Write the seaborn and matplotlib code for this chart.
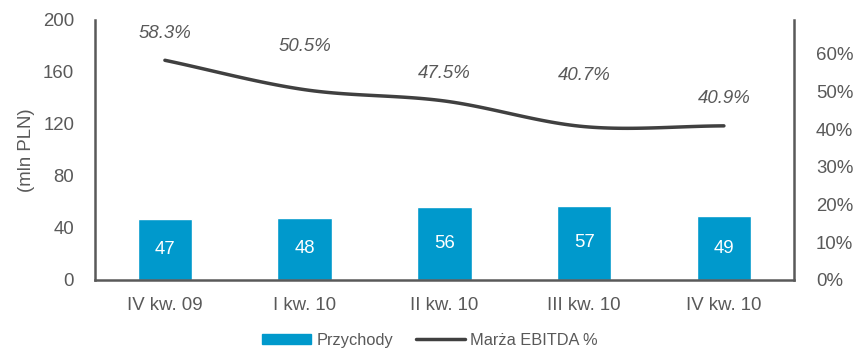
import numpy as np
import pandas as pd
import matplotlib
matplotlib.use("Agg")
import matplotlib.pyplot as plt
import seaborn as sns
from matplotlib.patches import Patch
from matplotlib.lines import Line2D

categories = ["IV kw. 09", "I kw. 10", "II kw. 10", "III kw. 10", "IV kw. 10"]
revenue = [47, 48, 56, 57, 49]
ebitda_margin = [58.3, 50.5, 47.5, 40.7, 40.9]
margin_labels = ["58.3%", "50.5%", "47.5%", "40.7%", "40.9%"]
left_ticks = [0, 40, 80, 120, 160, 200]
right_ticks = [0, 10, 20, 30, 40, 50, 60]

sns.set_theme(style="white")
plt.rcParams['font.family'] = ['Liberation Sans', 'DejaVu Sans']

BAR = "#0099CC"
LINE = "#404040"
TXT = "#595959"
SPINE = "#595959"
FS = 13.4

fig = plt.figure(figsize=(8.6, 3.5), dpi=100)
ax = fig.add_axes([0.1105, 0.2, 0.8125, 0.743])

df = pd.DataFrame({"cat": categories, "rev": revenue})
sns.barplot(data=df, x="cat", y="rev", color=BAR, saturation=1, width=0.39, ax=ax)
ax.set_xlim(-0.5, 4.5)
ax.set_ylim(0, 200)
ax.set_yticks(left_ticks)
ax.set_yticklabels([str(t) for t in left_ticks])
ax.set_xlabel("")
ax.set_ylabel("(mln PLN)", fontsize=FS, color=TXT, labelpad=6)
ax.tick_params(axis="both", colors=TXT, labelsize=FS, length=0)
ax.tick_params(axis="y", pad=15)
ax.tick_params(axis="x", pad=12)
for s in ["top", "right"]:
    ax.spines[s].set_visible(False)
for s in ["left", "bottom"]:
    ax.spines[s].set_color(SPINE)
    ax.spines[s].set_linewidth(1.8)

for p, v in zip(ax.patches, revenue):
    ax.text(p.get_x() + p.get_width() / 2, v / 2, str(v), ha="center", va="center",
            color="white", fontsize=FS)

ax2 = ax.twinx()
ax2.set_ylim(0, 69)
ax2.set_yticks(right_ticks)
ax2.set_yticklabels([f"{t}%" for t in right_ticks])
ax2.tick_params(axis="y", colors=TXT, labelsize=FS, length=0, pad=16)
for s in ["top", "left", "bottom"]:
    ax2.spines[s].set_visible(False)
ax2.spines["right"].set_color(SPINE)
ax2.spines["right"].set_linewidth(1.8)

# smoothed (Catmull-Rom) curve through the data points
x = np.arange(len(ebitda_margin), dtype=float)
y = np.array(ebitda_margin, dtype=float)
px = np.concatenate([[2 * x[0] - x[1]], x, [2 * x[-1] - x[-2]]])
py = np.concatenate([[2 * y[0] - y[1]], y, [2 * y[-1] - y[-2]]])
xs, ys = [], []
t = np.linspace(0, 1, 30)
for i in range(1, len(px) - 2):
    p0, p1, p2, p3 = (np.array([px[j], py[j]]) for j in range(i - 1, i + 3))
    pts = 0.5 * ((2 * p1)[None, :] + (-p0 + p2)[None, :] * t[:, None]
                 + (2 * p0 - 5 * p1 + 4 * p2 - p3)[None, :] * (t ** 2)[:, None]
                 + (-p0 + 3 * p1 - 3 * p2 + p3)[None, :] * (t ** 3)[:, None])
    xs.extend(pts[:, 0]); ys.extend(pts[:, 1])
sns.lineplot(x=xs, y=ys, ax=ax2, color=LINE, linewidth=2.5, sort=False)
ax2.set_ylabel("")

label_offsets = [19, 31, 20, 37, 20]
for xi, yi, lab, off in zip(x, y, margin_labels, label_offsets):
    ax2.annotate(lab, (xi, yi), xytext=(0, off), textcoords="offset points",
                 ha="center", va="center", fontsize=FS, style="italic", color=TXT)

handles = [Patch(color=BAR), Line2D([0], [0], color=LINE, linewidth=2.5)]
fig.legend(handles, ["Przychody", "Marża EBITDA %"], loc="center", bbox_to_anchor=(0.5, 0.028),
           ncol=2, frameon=False, fontsize=11.8, labelcolor=TXT, handlelength=3.0,
           handleheight=0.5, columnspacing=1.4, handletextpad=0.3)

fig.savefig("out.png", dpi=100)
